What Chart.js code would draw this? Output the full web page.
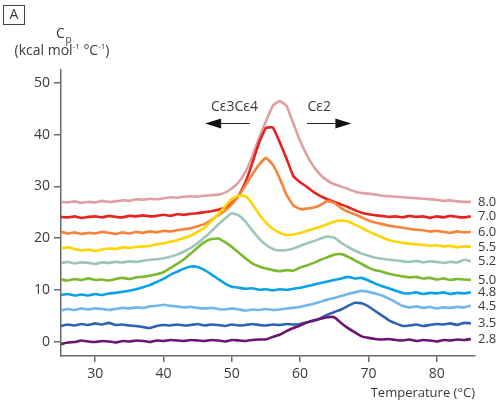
<!DOCTYPE html>
<html lang="en">
<head>
  <meta charset="UTF-8">
  <title>DSC Cp curves vs pH</title>
  <script src="https://cdn.jsdelivr.net/npm/chart.js"></script>
  <style>
    body { margin: 0; background: #fff; }
  </style>
</head>
<body>
  <canvas id="dsc" width="500" height="403"></canvas>

  <script>
    // Temperature axis (°C), one reading per degree
    const temps = [25,26,27,28,29,30,31,32,33,34,35,36,37,38,39,40,41,42,43,44,45,46,47,48,49,50,51,52,53,54,55,56,57,58,59,60,61,62,63,64,65,66,67,68,69,70,71,72,73,74,75,76,77,78,79,80,81,82,83,84,85];

    const phLabels = ['2.8', '3.5', '4.5', '4.8', '5.0', '5.2', '5.5', '6.0', '7.0', '8.0'];
    const phColors = ['#6b1470', '#2f62b3', '#72b6ea', '#0aa2e6', '#7bb92e', '#9cc6b8', '#ffd400', '#f6843a', '#e8231f', '#dfa0a0'];

    // Cp traces (kcal mol-1 °C-1), offset per pH as in the figure
    const cp28 = [-0.5,-0.2,-0.1,0.2,0.0,-0.1,0.1,0.0,-0.2,0.1,0.0,0.2,0.1,-0.1,0.2,0.1,0.3,0.2,0.1,0.3,0.2,0.1,0.3,0.2,0.0,0.3,0.2,0.1,0.3,0.4,0.4,0.9,1.3,2.0,2.6,3.1,3.7,4.1,4.4,4.7,4.7,3.6,2.6,1.8,1.0,0.7,0.5,0.4,0.5,0.3,0.2,0.4,0.1,0.3,0.2,0.0,0.3,0.2,0.4,0.3,0.5];
    const cp35 = [3.0,3.3,3.1,3.4,3.2,3.5,3.3,3.6,3.2,3.3,3.1,3.0,2.8,2.6,3.0,3.2,3.1,3.3,3.1,3.2,3.4,3.1,3.3,3.2,3.0,3.3,3.1,3.2,3.4,3.2,3.1,3.3,3.2,3.4,3.3,3.4,3.7,4.0,4.5,5.2,5.7,6.2,6.9,7.5,7.4,6.8,5.9,5.0,4.1,3.5,3.0,3.1,3.3,3.0,3.2,3.4,3.3,3.5,3.2,3.6,3.5];
    const cp45 = [6.0,6.3,6.1,6.4,6.2,6.4,6.3,6.1,6.3,6.5,6.4,6.6,6.5,6.8,6.9,7.1,6.9,6.8,6.6,6.7,6.5,6.4,6.5,6.3,6.2,6.4,6.2,6.0,6.2,6.1,6.3,6.1,6.2,6.4,6.5,6.7,7.0,7.3,7.7,8.1,8.4,8.8,9.2,9.5,9.8,9.6,9.3,8.9,8.3,7.6,6.9,6.6,6.8,6.5,6.7,6.4,6.6,6.5,6.7,6.6,6.9];
    const cp48 = [9.0,9.2,8.9,9.1,8.9,9.2,9.0,9.3,9.4,9.6,9.8,10.1,10.5,10.9,11.5,12.1,12.9,13.5,14.1,14.5,14.4,13.8,13.0,12.1,11.2,10.6,10.4,10.2,10.3,10.0,10.1,9.9,10.1,10.0,10.2,10.4,10.7,11.0,11.3,11.6,11.9,12.2,12.5,12.2,12.3,11.8,11.2,10.7,10.3,9.8,9.4,9.3,9.5,9.2,9.4,9.3,9.5,9.2,9.4,9.3,9.5];
    const cp50 = [12.0,11.8,12.1,11.9,12.2,11.9,12.0,11.8,12.1,12.3,12.1,12.4,12.5,12.7,13.0,13.4,14.2,15.0,15.9,17.0,18.2,19.2,19.8,19.9,19.2,18.3,17.2,16.1,15.1,14.5,14.1,13.8,13.6,13.8,13.7,14.3,14.7,15.2,15.8,16.3,16.8,16.9,16.4,15.7,15.0,14.3,13.8,13.5,13.1,12.8,12.6,12.4,12.5,12.2,12.3,12.0,12.2,11.9,12.1,12.0,11.9];
    const cp52 = [15.2,15.4,15.1,15.3,15.2,15.0,15.3,15.2,15.4,15.3,15.5,15.4,15.6,15.8,15.9,16.1,16.4,16.8,17.4,18.1,19.0,20.1,21.3,22.6,23.8,24.8,24.4,23.2,21.5,19.9,18.7,17.9,17.6,17.7,18.0,18.5,19.0,19.4,19.9,20.3,20.1,19.1,18.3,17.6,17.0,16.6,16.2,16.0,15.8,15.7,15.5,15.4,15.6,15.3,15.5,15.4,15.2,15.4,15.3,15.8,15.5];
    const cp55 = [18.0,18.2,17.9,17.6,17.8,17.5,17.8,18.0,17.9,18.2,18.1,18.3,18.4,18.5,18.8,19.0,19.3,19.6,20.0,20.5,21.2,22.0,23.3,24.6,26.1,27.6,28.2,28.1,26.6,24.6,23.0,21.8,21.0,20.6,20.7,21.0,21.4,21.8,22.2,22.7,23.2,23.4,23.2,22.6,22.0,21.3,20.7,20.1,19.6,19.3,19.1,18.9,18.8,18.7,18.5,18.6,18.4,18.5,18.2,18.4,18.3];
    const cp60 = [21.2,20.9,21.1,20.8,21.0,20.9,21.2,21.0,20.8,21.1,20.9,21.2,21.0,21.3,21.1,21.4,21.3,21.5,21.7,21.9,22.3,22.7,23.5,24.4,25.3,26.5,28.2,30.2,32.3,34.2,35.5,34.2,31.6,28.4,26.3,25.6,25.7,25.9,26.4,27.2,26.8,25.8,25.1,24.6,24.0,23.4,23.0,22.7,22.4,22.2,22.0,21.8,21.6,21.5,21.3,21.4,21.2,21.0,21.3,21.1,21.2];
    const cp70 = [24.1,24.0,24.2,23.9,24.1,24.2,24.0,24.3,24.1,24.0,24.3,24.2,24.4,24.2,24.3,24.5,24.3,24.6,24.5,24.7,24.8,25.0,25.2,25.5,25.9,26.8,28.2,30.8,34.5,38.5,41.3,41.4,38.6,35.4,32.0,30.8,29.9,28.9,28.1,27.5,27.0,26.5,26.0,25.4,24.9,24.6,24.4,24.3,24.1,24.2,24.0,24.3,24.1,24.2,23.9,24.2,24.0,24.3,24.1,24.0,24.2];
    const cp80 = [27.0,26.9,27.1,26.8,27.0,26.9,27.2,27.0,27.1,27.3,27.2,27.5,27.4,27.6,27.5,27.7,27.9,27.8,28.0,28.1,28.0,28.2,28.3,28.4,28.8,29.6,30.8,32.8,35.8,39.4,42.6,45.6,46.5,45.6,42.2,38.8,36.0,33.8,32.2,31.1,30.4,30.0,29.5,29.0,28.7,28.6,28.4,28.2,28.1,28.0,27.9,27.8,27.7,27.6,27.5,27.4,27.2,27.3,27.1,27.0,27.0];

    const series = [cp28, cp35, cp45, cp48, cp50, cp52, cp55, cp60, cp70, cp80];

    const xTicks = [30, 40, 50, 60, 70, 80];
    const yTicks = [0, 10, 20, 30, 40, 50];

    const FONT = '"Open Sans", "DejaVu Sans", sans-serif';
    const INK = '#3a3a3a';
    const AXIS = '#6a6a6a';

    // pH labels at the right end of each trace, plus the annotations and axis titles
    const decorPlugin = {
      id: 'decor',
      afterDatasetsDraw(chart) {
        const ctx = chart.ctx;
        const xs = chart.scales.x;
        const ys = chart.scales.y;
        const area = chart.chartArea;
        ctx.save();

        // pH labels
        ctx.font = '13px ' + FONT;
        ctx.fillStyle = INK;
        ctx.textAlign = 'left';
        ctx.textBaseline = 'middle';
        series.forEach((s, i) => {
          ctx.fillText(phLabels[i], area.right + 3, ys.getPixelForValue(s[s.length - 1]));
        });

        // domain annotations
        ctx.font = '14px ' + FONT;
        ctx.textAlign = 'center';
        ctx.textBaseline = 'alphabetic';
        ctx.fillText('Cε3Cε4', xs.getPixelForValue(50.4), ys.getPixelForValue(44.6));
        ctx.fillText('Cε2', xs.getPixelForValue(62.8), ys.getPixelForValue(44.6));

        function arrow(fromT, toT, v) {
          const x0 = xs.getPixelForValue(fromT);
          const x1 = xs.getPixelForValue(toT);
          const y = Math.round(ys.getPixelForValue(v)) + 0.5;
          const dir = x1 > x0 ? 1 : -1;
          ctx.strokeStyle = '#222';
          ctx.lineWidth = 1;
          ctx.beginPath();
          ctx.moveTo(x0, y);
          ctx.lineTo(x1 - dir * 14, y);
          ctx.stroke();
          ctx.fillStyle = '#111';
          ctx.beginPath();
          ctx.moveTo(x1, y);
          ctx.lineTo(x1 - dir * 16, y - 5);
          ctx.lineTo(x1 - dir * 16, y + 5);
          ctx.closePath();
          ctx.fill();
        }
        arrow(52.6, 46.1, 42.3);
        arrow(61.0, 67.5, 42.3);

        // x axis title
        ctx.fillStyle = INK;
        ctx.font = '13px ' + FONT;
        ctx.textAlign = 'right';
        ctx.textBaseline = 'middle';
        ctx.fillText('Temperature (°C)', area.right, 393);

        // panel letter
        ctx.strokeStyle = '#444';
        ctx.lineWidth = 1;
        ctx.strokeRect(3.5, 5.5, 21, 19);
        ctx.font = '14px ' + FONT;
        ctx.textAlign = 'center';
        ctx.fillText('A', 14, 15.5);

        // y axis title: Cp (kcal mol-1 °C-1)
        ctx.textAlign = 'left';
        ctx.textBaseline = 'alphabetic';
        ctx.font = '14px ' + FONT;
        ctx.fillText('C', 56, 38);
        ctx.font = '10px ' + FONT;
        ctx.fillText('p', 65.5, 43);

        const parts = [['(kcal mol', 14, 0], ['-1', 8, -6], [' °C', 14, 0], ['-1', 8, -6], [')', 14, 0]];
        let total = 0;
        parts.forEach(p => { ctx.font = p[1] + 'px ' + FONT; total += ctx.measureText(p[0]).width; });
        let cx = 62 - total / 2;
        parts.forEach(p => {
          ctx.font = p[1] + 'px ' + FONT;
          ctx.fillText(p[0], cx, 55 + p[2]);
          cx += ctx.measureText(p[0]).width;
        });

        ctx.restore();
      }
    };

    new Chart(document.getElementById('dsc'), {
      type: 'line',
      data: {
        labels: temps,
        datasets: series.map((s, i) => ({
          label: 'pH ' + phLabels[i],
          data: s.map((v, j) => ({ x: temps[j], y: v })),
          borderColor: phColors[i],
          borderWidth: 2.6,
          pointRadius: 0,
          tension: 0.1,
          fill: false
        }))
      },
      options: {
        responsive: false,
        animation: false,
        layout: { padding: { top: 70, right: 25, left: 0, bottom: 0 } },
        plugins: {
          legend: { display: false },
          tooltip: { enabled: false }
        },
        scales: {
          x: {
            type: 'linear',
            min: 25,
            max: 85.6,
            afterBuildTicks: (scale) => { scale.ticks = xTicks.map(v => ({ value: v })); },
            afterFit: (scale) => { scale.height = 47; },
            border: { display: true, color: AXIS, width: 1.5 },
            grid: { display: true, drawOnChartArea: false, drawTicks: true, tickLength: 6, color: AXIS, lineWidth: 1.5 },
            ticks: { color: INK, font: { family: FONT, size: 14 }, padding: 4, maxRotation: 0 }
          },
          y: {
            min: -2.8,
            max: 52.5,
            afterBuildTicks: (scale) => { scale.ticks = yTicks.map(v => ({ value: v })); },
            afterFit: (scale) => { scale.width = 61; },
            border: { display: true, color: AXIS, width: 1.5 },
            grid: { display: true, drawOnChartArea: false, drawTicks: true, tickLength: 7, color: AXIS, lineWidth: 1.5 },
            ticks: { color: INK, font: { family: FONT, size: 14 }, padding: 4 }
          }
        }
      },
      plugins: [decorPlugin]
    });
  </script>
</body>
</html>
